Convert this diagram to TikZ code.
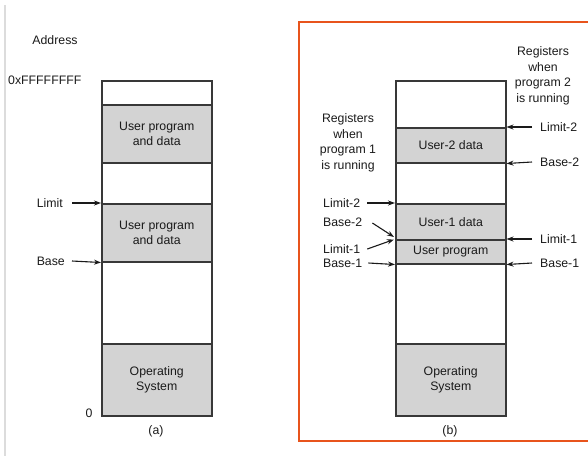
\documentclass[tikz,border=0pt]{standalone}
\usepackage{fontspec}
\setmainfont{Liberation Sans}
\usetikzlibrary{arrows.meta}
\definecolor{segfill}{HTML}{D3D3D3}
\definecolor{segline}{HTML}{383838}
\definecolor{inkcol}{HTML}{1A1A1A}
\definecolor{framecol}{HTML}{E8541C}
\definecolor{rulecol}{HTML}{DCDCDC}
\tikzset{
  seg/.style={draw=segline, line width=1.5pt, minimum width=110pt, inner sep=0pt,
    anchor=north west, align=center, text=inkcol},
  full/.style={seg, fill=segfill},
  empty/.style={seg, fill=white},
  lbl/.style={inner sep=0pt, text=inkcol},
  reg/.style={lbl, align=center},
  ptr/.style={-{Stealth[length=7pt,width=5pt]}, line width=1.1pt, draw=inkcol}
}
\begin{document}
\begin{tikzpicture}[x=1pt, y=-1pt, font=\fontsize{12.3}{15.5}\selectfont]
\useasboundingbox (0,0) rectangle (588,456);
\clip (0,0) rectangle (588,456);

% page decorations: left rule, clipped glyph, and the orange frame around (b)
\draw[rulecol, line width=2pt] (4.5,5) -- (4.5,456);
\node[lbl, anchor=base, font=\fontsize{20}{24}\selectfont] (glyph) at (15,-5.5) {g};
\draw[framecol, line width=2.2pt] (299,22) rectangle (620,441);

% ---------- (a) single base/limit pair ----------
\node[lbl] (addr) at (55,40) {Address};
\node[lbl, anchor=west] (top) at (8,80) {0xFFFFFFFF};
\node[empty, minimum height=24pt] (a1) at (101,80) {};
\node[full,  minimum height=58pt] (a2) at (101,104) {User program\\and data};
\node[empty, minimum height=41pt] (a3) at (101,162) {};
\node[full,  minimum height=58pt] (a4) at (101,203) {User program\\and data};
\node[empty, minimum height=82pt] (a5) at (101,261) {};
\node[full,  minimum height=72pt] (a6) at (101,343) {Operating\\System};
\node[lbl] (zero) at (89,413) {0};
\node[lbl] (capa) at (156,431) {(a)};

\node[lbl, anchor=east] (alim) at (63,203) {Limit};
\node[lbl, anchor=east] (abase) at (65,261) {Base};
\draw[ptr] ([xshift=9pt]alim.east) -- (a4.north west);
\draw[ptr] ([xshift=7pt]abase.east) -- (a4.south west);

% ---------- (b) two programs in memory ----------
\node[empty, minimum height=47pt] (b1) at (395,80) {};
\node[full,  minimum height=35pt] (b2) at (395,127) {User-2 data};
\node[empty, minimum height=41pt] (b3) at (395,162) {};
\node[full,  minimum height=36pt] (b4) at (395,203) {User-1 data};
\node[full,  minimum height=24pt] (b5) at (395,239) {User program};
\node[empty, minimum height=80pt] (b6) at (395,263) {};
\node[full,  minimum height=72pt] (b7) at (395,343) {Operating\\System};
\node[lbl] (capb) at (450,431) {(b)};

% registers while program 1 runs
\node[reg] (reg1) at (348,143) {Registers\\when\\program 1\\is running};
\node[lbl, anchor=west] (l2a) at (323,203) {Limit-2};
\node[lbl, anchor=west] (b2a) at (323,222) {Base-2};
\node[lbl, anchor=west] (l1a) at (323,249) {Limit-1};
\node[lbl, anchor=west] (b1a) at (323,263) {Base-1};
\coordinate (b2tip) at (394,237);
\coordinate (l1tip) at (394,239.5);
\draw[ptr] ([xshift=7pt]l2a.east) -- (b4.north west);
\draw[ptr] ([xshift=10pt,yshift=-1pt]b2a.east) -- (b2tip);
\draw[ptr] ([xshift=7pt]l1a.east) -- (l1tip);
\draw[ptr] ([xshift=6pt]b1a.east) -- (b5.south west);

% registers while program 2 runs
\node[reg] (reg2) at (543,76) {Registers\\when\\program 2\\is running};
\node[lbl, anchor=west] (l2b) at (540,127) {Limit-2};
\node[lbl, anchor=west] (b2b) at (540,162) {Base-2};
\node[lbl, anchor=west] (l1b) at (540,239) {Limit-1};
\node[lbl, anchor=west] (b1b) at (540,263) {Base-1};
\draw[ptr] ([xshift=-8pt]l2b.west) -- (b2.north east);
\draw[ptr] ([xshift=-8pt]b2b.west) -- (b2.south east);
\draw[ptr] ([xshift=-8pt]l1b.west) -- (b5.north east);
\draw[ptr] ([xshift=-8pt]b1b.west) -- (b5.south east);
\end{tikzpicture}
\end{document}
